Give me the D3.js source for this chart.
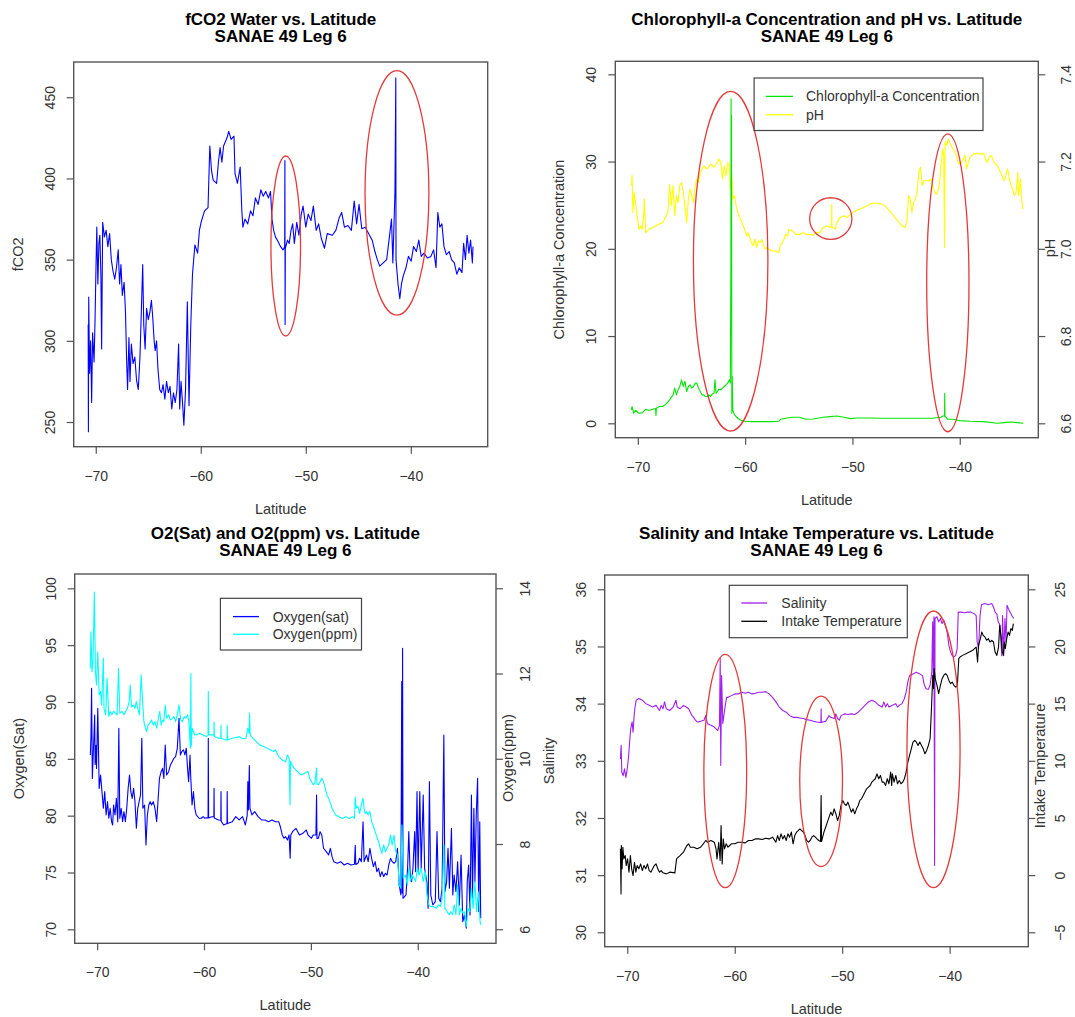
<!DOCTYPE html>
<html>
<head>
<meta charset="utf-8">
<script src="https://cdn.jsdelivr.net/npm/d3@7"></script>
<style>
  body { margin: 0; background: #fff; }
  svg { display: block; font-family: "Liberation Sans", Arial, sans-serif; }
</style>
</head>
<body>
<svg id="chart" width="1075" height="1017"></svg>
<script>
// ---- values: [latitude, value] ----
const latTicks = [-70, -60, -50, -40];

const fco2 = [[-70.72,310],[-70.70,244],[-70.67,327],[-70.59,280],[-70.49,300],[-70.39,262],[-70.30,305],[-70.16,287],[-70.07,312],[-69.97,348],[-69.90,370],[-69.80,335],[-69.70,360],[-69.61,365],[-69.51,340],[-69.44,295],[-69.34,373],[-69.18,364],[-69.01,368],[-68.85,358],[-68.68,366],[-68.52,350],[-68.36,343],[-68.19,338],[-68.03,345],[-67.86,356],[-67.73,335],[-67.60,347],[-67.47,328],[-67.30,336],[-67.17,318],[-67.07,290],[-66.97,270],[-66.84,302],[-66.74,275],[-66.61,298],[-66.45,286],[-66.28,290],[-66.12,276],[-65.95,270],[-65.79,290],[-65.66,318],[-65.53,347],[-65.43,310],[-65.30,295],[-65.16,320],[-65.00,313],[-64.84,318],[-64.70,325],[-64.57,314],[-64.44,300],[-64.34,294],[-64.21,300],[-64.08,283],[-63.91,270],[-63.75,268],[-63.59,273],[-63.42,264],[-63.26,275],[-63.09,268],[-62.93,272],[-62.76,258],[-62.60,268],[-62.43,262],[-62.27,270],[-62.11,298],[-62.01,258],[-61.88,275],[-61.75,263],[-61.61,248],[-61.45,270],[-61.28,324],[-61.12,260],[-60.95,310],[-60.79,341],[-60.56,359],[-60.30,354],[-60.13,368],[-59.97,373],[-59.64,380],[-59.31,382],[-59.14,420],[-58.98,405],[-58.82,399],[-58.49,397],[-58.32,410],[-58.16,419],[-57.99,410],[-57.83,420],[-57.50,425],[-57.34,429],[-57.11,424],[-56.84,426],[-56.74,403],[-56.51,397],[-56.25,407],[-56.09,380],[-55.99,370],[-55.79,375],[-55.53,372],[-55.26,380],[-55.03,377],[-54.80,388],[-54.54,384],[-54.28,393],[-54.05,389],[-53.82,392],[-53.55,388],[-53.36,392],[-53.22,375],[-53.06,368],[-52.89,364],[-52.63,361],[-52.40,358],[-52.17,356],[-52.01,358],[-51.99,411],[-51.97,310],[-51.95,357],[-51.74,362],[-51.58,360],[-51.41,368],[-51.25,372],[-51.09,360],[-50.86,373],[-50.66,365],[-50.43,378],[-50.26,383],[-50.00,370],[-49.77,378],[-49.51,374],[-49.28,383],[-49.01,368],[-48.78,372],[-48.52,363],[-48.22,357],[-47.96,366],[-47.47,365],[-47.14,368],[-46.81,376],[-46.58,379],[-46.32,370],[-45.99,371],[-45.66,368],[-45.39,386],[-45.16,372],[-44.93,384],[-44.67,369],[-44.34,370],[-44.01,366],[-43.68,362],[-43.42,355],[-43.19,350],[-42.96,346],[-42.63,348],[-42.30,350],[-42.04,364],[-41.84,375],[-41.71,348],[-41.51,392],[-41.43,462],[-41.41,350],[-41.22,335],[-41.05,326],[-40.89,335],[-40.72,340],[-40.46,345],[-40.23,352],[-39.97,349],[-39.74,358],[-39.47,355],[-39.24,362],[-39.01,352],[-38.75,354],[-38.42,351],[-38.09,352],[-37.83,356],[-37.60,345],[-37.43,379],[-37.24,370],[-37.04,372],[-36.84,358],[-36.61,353],[-36.35,355],[-36.12,350],[-35.86,348],[-35.62,341],[-35.39,345],[-35.13,342],[-34.97,360],[-34.80,350],[-34.64,365],[-34.47,354],[-34.31,362],[-34.14,348],[-34.08,358]];

const chl = [[-70.60,1.53],[-70.54,1.92],[-70.38,1.15],[-70.22,1.5],[-69.90,1.15],[-69.59,1.2],[-69.27,1.6],[-68.95,1.46],[-68.63,1.6],[-68.35,1.7],[-68.31,0.9],[-68.27,1.73],[-68.00,1.92],[-67.68,1.92],[-67.36,2.22],[-67.04,2.68],[-66.72,3.26],[-66.56,4.03],[-66.40,3.26],[-66.25,3.83],[-66.09,4.22],[-65.93,4.99],[-65.77,4.22],[-65.61,4.8],[-65.45,3.64],[-65.29,4.22],[-65.13,4.41],[-64.97,4.03],[-64.81,4.22],[-64.65,4.6],[-64.50,4.6],[-64.34,4.03],[-64.18,3.64],[-64.02,3.26],[-63.86,3.26],[-63.70,3.07],[-63.54,3.07],[-63.38,3.26],[-63.22,3.07],[-63.06,3.37],[-62.90,3.45],[-62.81,4.99],[-62.71,3.45],[-62.59,3.64],[-62.43,3.91],[-62.27,3.83],[-62.11,4.03],[-61.95,4.22],[-61.79,4.41],[-61.63,4.6],[-61.47,4.99],[-61.38,4.6],[-61.33,18],[-61.31,37.2],[-61.29,14.2],[-61.27,35.3],[-61.24,1.15],[-61.20,5.4],[-61.15,1.5],[-60.99,0.96],[-60.68,0.58],[-60.36,0.31],[-60.04,0.23],[-59.41,0.19],[-58.45,0.19],[-57.50,0.19],[-56.86,0.23],[-56.70,0.46],[-56.22,0.58],[-55.59,0.69],[-54.95,0.69],[-54.31,0.46],[-53.68,0.5],[-52.72,0.69],[-52.09,0.77],[-51.45,0.84],[-50.81,0.69],[-50.18,0.54],[-49.54,0.61],[-48.59,0.61],[-47.31,0.58],[-45.72,0.58],[-44.13,0.58],[-42.54,0.58],[-41.75,0.69],[-41.59,0.84],[-41.42,0.84],[-41.40,3.45],[-41.38,0.77],[-41.33,0.77],[-41.11,0.46],[-40.63,0.46],[-40.00,0.31],[-39.04,0.23],[-37.77,0.19],[-36.50,0.0],[-35.86,0.08],[-35.22,0.15],[-34.59,0.08],[-34.08,0.0]];

const ph = [[-70.60,7.145],[-70.54,7.168],[-70.45,7.083],[-70.35,7.129],[-70.22,7.106],[-70.06,7.076],[-69.90,7.045],[-69.75,7.053],[-69.59,7.045],[-69.45,7.080],[-69.40,7.114],[-69.27,7.037],[-68.95,7.045],[-68.63,7.049],[-68.31,7.053],[-68.00,7.057],[-67.68,7.060],[-67.36,7.076],[-67.20,7.083],[-67.04,7.148],[-66.88,7.099],[-66.72,7.145],[-66.56,7.076],[-66.40,7.122],[-66.25,7.106],[-66.09,7.145],[-65.93,7.152],[-65.77,7.129],[-65.61,7.099],[-65.45,7.060],[-65.29,7.114],[-65.13,7.137],[-64.97,7.122],[-64.81,7.106],[-64.65,7.145],[-64.50,7.160],[-64.34,7.152],[-64.18,7.175],[-64.02,7.183],[-63.86,7.190],[-63.54,7.183],[-63.22,7.194],[-62.90,7.187],[-62.59,7.198],[-62.43,7.206],[-62.27,7.198],[-62.11,7.160],[-61.95,7.190],[-61.79,7.168],[-61.63,7.198],[-61.47,7.190],[-61.38,7.137],[-61.25,7.168],[-61.15,7.114],[-60.99,7.122],[-60.84,7.099],[-60.68,7.083],[-60.36,7.064],[-60.04,7.045],[-59.88,7.030],[-59.72,7.037],[-59.56,7.026],[-59.41,7.014],[-59.25,7.007],[-59.09,7.022],[-58.93,7.003],[-58.77,7.018],[-58.61,7.014],[-58.45,7.022],[-58.29,7.007],[-58.13,6.999],[-57.97,7.003],[-57.81,6.999],[-57.50,6.995],[-57.18,6.995],[-56.86,6.991],[-56.70,7.010],[-56.54,7.014],[-56.38,7.022],[-56.22,7.033],[-56.06,7.030],[-55.91,7.045],[-55.59,7.041],[-55.27,7.033],[-54.95,7.033],[-54.63,7.037],[-54.31,7.033],[-53.99,7.033],[-53.68,7.031],[-53.36,7.037],[-53.04,7.037],[-52.72,7.049],[-52.41,7.053],[-52.09,7.049],[-51.95,7.050],[-51.93,7.102],[-51.91,7.050],[-51.83,7.049],[-51.61,7.045],[-51.45,7.060],[-51.13,7.072],[-50.81,7.076],[-50.50,7.072],[-50.18,7.079],[-49.86,7.085],[-49.54,7.089],[-49.22,7.092],[-48.91,7.095],[-48.59,7.099],[-48.27,7.104],[-47.95,7.105],[-47.63,7.104],[-47.31,7.103],[-47.00,7.099],[-46.68,7.091],[-46.36,7.082],[-46.04,7.072],[-45.72,7.062],[-45.41,7.053],[-45.09,7.049],[-44.93,7.064],[-44.77,7.122],[-44.62,7.114],[-44.46,7.083],[-44.30,7.106],[-44.13,7.114],[-43.98,7.129],[-43.82,7.175],[-43.66,7.187],[-43.50,7.145],[-43.34,7.156],[-43.18,7.156],[-42.86,7.156],[-42.70,7.160],[-42.54,7.148],[-42.38,7.133],[-42.22,7.125],[-42.07,7.129],[-41.91,7.145],[-41.75,7.191],[-41.59,7.229],[-41.49,7.214],[-41.42,7.003],[-41.37,7.245],[-41.20,7.237],[-41.08,7.252],[-40.95,7.245],[-40.79,7.237],[-40.63,7.229],[-40.47,7.222],[-40.32,7.214],[-40.16,7.198],[-40.00,7.194],[-39.84,7.198],[-39.68,7.206],[-39.52,7.214],[-39.36,7.183],[-39.20,7.198],[-39.04,7.210],[-38.72,7.217],[-38.41,7.219],[-38.09,7.217],[-37.77,7.219],[-37.61,7.207],[-37.45,7.198],[-37.30,7.207],[-37.13,7.214],[-36.97,7.210],[-36.82,7.198],[-36.50,7.191],[-36.18,7.175],[-35.86,7.156],[-35.71,7.168],[-35.54,7.183],[-35.38,7.160],[-35.22,7.145],[-35.07,7.137],[-34.91,7.122],[-34.75,7.129],[-34.59,7.175],[-34.52,7.122],[-34.43,7.137],[-34.34,7.160],[-34.21,7.106],[-34.08,7.091]];

const o2sat = [[-70.64,85.34],[-70.58,86.95],[-70.52,91.2],[-70.45,83.28],[-70.32,86.51],[-70.23,88.86],[-70.19,84.5],[-70.10,86.2],[-70.06,84.16],[-69.94,89.44],[-69.81,82.4],[-69.68,83.58],[-69.55,82.11],[-69.42,80.65],[-69.29,82.11],[-69.16,80.06],[-69.03,81.23],[-68.91,79.77],[-68.78,80.65],[-68.65,79.47],[-68.55,79.18],[-68.46,80.94],[-68.33,80.06],[-68.20,81.52],[-68.07,79.47],[-67.97,87.68],[-67.88,79.77],[-67.75,80.65],[-67.62,79.47],[-67.49,80.35],[-67.36,79.47],[-67.23,80.65],[-67.10,82.4],[-66.97,83.58],[-66.85,82.11],[-66.72,81.52],[-66.59,82.4],[-66.46,81.23],[-66.33,78.89],[-66.20,80.65],[-66.07,81.23],[-65.94,81.82],[-65.82,86.8],[-65.72,80.65],[-65.56,80.94],[-65.43,77.42],[-65.30,80.06],[-65.17,80.94],[-65.04,81.23],[-64.91,80.94],[-64.75,81.23],[-64.59,80.65],[-64.43,79.47],[-64.27,81.82],[-64.17,83.28],[-64.01,83.87],[-63.88,84.16],[-63.76,83.28],[-63.63,86.22],[-63.50,83.58],[-63.31,83.87],[-63.14,84.46],[-62.98,84.75],[-62.82,85.04],[-62.66,85.19],[-62.50,85.92],[-62.34,88.56],[-62.21,85.34],[-62.08,85.63],[-61.92,85.78],[-61.79,85.34],[-61.66,85.92],[-61.54,84.16],[-61.44,82.99],[-61.31,85.34],[-61.25,83.58],[-61.12,80.94],[-60.99,82.11],[-60.86,80.65],[-60.73,80.06],[-60.47,79.77],[-60.25,79.77],[-60.09,79.91],[-59.93,79.77],[-59.77,79.82],[-59.62,79.8],[-59.60,86.8],[-59.57,79.8],[-59.28,79.91],[-59.08,79.9],[-59.06,82.4],[-59.04,79.8],[-58.64,79.62],[-58.43,79.6],[-58.41,82.11],[-58.39,79.5],[-58.16,79.18],[-57.85,79.3],[-57.83,82.11],[-57.81,79.3],[-57.35,79.47],[-57.03,79.91],[-56.71,79.62],[-56.39,79.91],[-56.13,79.18],[-55.96,80.0],[-55.90,82.99],[-55.84,80.5],[-55.76,84.4],[-55.70,80.65],[-55.52,80.06],[-55.26,80.35],[-54.94,79.91],[-54.62,79.62],[-54.29,79.62],[-53.97,79.47],[-53.65,79.62],[-53.33,79.47],[-53.01,79.47],[-52.85,79.0],[-52.68,78.3],[-52.52,78.01],[-52.36,78.15],[-52.20,77.86],[-52.04,78.3],[-51.94,76.25],[-51.88,78.3],[-51.72,78.59],[-51.40,78.89],[-51.07,78.3],[-50.75,78.45],[-50.43,78.74],[-50.27,78.3],[-49.95,78.01],[-49.79,78.3],[-49.53,78.3],[-49.47,81.82],[-49.43,78.0],[-49.30,78.01],[-49.14,78.59],[-48.98,78.3],[-48.82,77.13],[-48.56,76.83],[-48.34,76.54],[-48.18,77.13],[-48.02,76.39],[-47.86,75.95],[-47.53,75.81],[-47.21,75.95],[-46.89,75.66],[-46.57,75.81],[-46.25,75.66],[-45.92,75.72],[-45.85,77.4],[-45.80,75.7],[-45.60,75.81],[-45.44,76.25],[-45.28,75.95],[-45.12,79.47],[-45.02,75.95],[-44.80,76.54],[-44.64,75.95],[-44.48,77.13],[-44.32,76.25],[-44.15,75.51],[-43.99,75.95],[-43.83,75.07],[-43.67,75.37],[-43.51,74.63],[-43.35,75.07],[-43.19,74.63],[-43.03,74.93],[-42.87,74.78],[-42.71,75.66],[-42.55,76.25],[-42.39,75.95],[-42.22,75.81],[-42.06,75.95],[-41.90,77.13],[-41.74,73.9],[-41.58,73.02],[-41.50,91.79],[-41.46,73.2],[-41.42,94.72],[-41.38,72.73],[-41.10,73.02],[-40.94,75.66],[-40.84,78.6],[-40.71,74.78],[-40.58,74.19],[-40.45,75.37],[-40.29,78.6],[-40.20,75.07],[-40.07,82.11],[-39.97,75.07],[-39.81,82.11],[-39.68,75.37],[-39.49,81.82],[-39.36,75.37],[-39.16,74.19],[-39.03,71.85],[-38.91,82.99],[-38.78,73.02],[-38.59,72.14],[-38.36,72.43],[-38.20,78.6],[-38.04,72.73],[-37.88,72.43],[-37.72,73.61],[-37.56,87.1],[-37.46,73.31],[-37.30,74.19],[-37.17,77.13],[-37.04,73.61],[-36.85,78.89],[-36.72,73.02],[-36.60,74.78],[-36.43,73.31],[-36.27,75.95],[-36.11,72.14],[-35.95,76.54],[-35.79,70.67],[-35.63,71.26],[-35.46,70.09],[-35.37,74.19],[-35.24,75.66],[-35.11,71.26],[-34.98,81.82],[-34.88,72.73],[-34.75,80.65],[-34.65,74.19],[-34.53,80.06],[-34.40,83.28],[-34.30,71.55],[-34.20,79.47],[-34.11,70.97]];

const o2ppm = [[-70.64,12.12],[-70.58,12.98],[-70.48,12.04],[-70.39,12.28],[-70.26,13.91],[-70.16,12.04],[-70.06,11.73],[-69.94,12.51],[-69.81,11.5],[-69.68,11.58],[-69.58,11.26],[-69.42,12.36],[-69.36,11.18],[-69.20,11.03],[-69.07,11.89],[-68.91,10.99],[-68.78,11.11],[-68.62,11.03],[-68.46,11.11],[-68.29,11.07],[-68.13,11.03],[-68.00,12.12],[-67.88,11.07],[-67.65,11.11],[-67.49,11.03],[-67.33,11.11],[-67.17,11.18],[-67.00,11.34],[-66.91,11.73],[-66.78,11.22],[-66.62,11.26],[-66.46,11.18],[-66.33,11.34],[-66.20,11.18],[-66.04,11.03],[-65.88,11.97],[-65.75,11.34],[-65.62,10.87],[-65.49,10.72],[-65.37,10.64],[-65.24,10.79],[-65.08,10.83],[-64.91,10.91],[-64.75,10.79],[-64.59,10.87],[-64.43,10.72],[-64.27,10.95],[-64.14,11.11],[-64.01,10.79],[-63.88,10.91],[-63.76,10.87],[-63.63,11.26],[-63.50,10.95],[-63.31,11.03],[-63.14,10.91],[-62.98,10.95],[-62.82,10.99],[-62.66,10.87],[-62.50,11.03],[-62.34,11.26],[-62.18,10.91],[-62.02,10.87],[-61.86,10.99],[-61.70,10.95],[-61.54,11.03],[-61.41,10.87],[-61.28,10.25],[-61.23,12.0],[-61.19,10.3],[-61.12,10.72],[-60.99,10.64],[-60.86,10.56],[-60.73,10.56],[-60.41,10.6],[-60.09,10.56],[-59.77,10.52],[-59.62,10.55],[-59.60,11.58],[-59.55,10.56],[-59.28,10.56],[-59.08,10.55],[-59.06,10.87],[-59.03,10.52],[-58.64,10.48],[-58.43,10.48],[-58.41,10.79],[-58.39,10.48],[-58.00,10.44],[-57.85,10.44],[-57.83,10.79],[-57.80,10.44],[-57.35,10.48],[-57.03,10.5],[-56.71,10.52],[-56.39,10.47],[-56.07,10.48],[-55.90,10.72],[-55.78,10.6],[-55.74,11.07],[-55.68,10.56],[-55.42,10.48],[-55.10,10.4],[-54.77,10.32],[-54.45,10.29],[-54.13,10.25],[-53.81,10.21],[-53.49,10.17],[-53.33,10.21],[-53.17,10.13],[-53.01,10.05],[-52.68,9.97],[-52.36,9.93],[-52.20,10.09],[-52.04,10.01],[-51.95,8.92],[-51.91,9.95],[-51.85,9.89],[-51.56,9.78],[-51.24,9.7],[-50.91,9.62],[-50.59,9.66],[-50.27,9.7],[-50.11,9.54],[-49.95,9.46],[-49.79,9.39],[-49.63,9.43],[-49.47,9.78],[-49.43,9.4],[-49.30,9.39],[-49.14,9.46],[-48.98,9.54],[-48.82,9.46],[-48.66,9.31],[-48.50,9.15],[-48.34,9.07],[-48.18,8.96],[-48.02,8.84],[-47.86,8.76],[-47.69,8.68],[-47.37,8.64],[-47.05,8.6],[-46.73,8.64],[-46.41,8.6],[-46.09,8.64],[-45.92,8.6],[-45.85,9.1],[-45.76,8.84],[-45.60,8.88],[-45.44,8.72],[-45.28,8.92],[-45.12,9.07],[-44.96,8.72],[-44.80,8.76],[-44.64,8.68],[-44.48,8.76],[-44.32,8.53],[-44.15,8.41],[-43.99,8.29],[-43.83,8.17],[-43.67,8.06],[-43.51,7.9],[-43.35,7.78],[-43.19,7.98],[-43.03,7.82],[-42.87,7.9],[-42.71,7.98],[-42.55,8.21],[-42.39,7.98],[-42.22,8.21],[-42.06,7.82],[-41.90,7.74],[-41.74,7.04],[-41.58,6.96],[-41.48,8.45],[-41.36,7.2],[-41.16,7.27],[-40.97,7.04],[-40.84,7.43],[-40.68,7.12],[-40.52,7.27],[-40.36,7.2],[-40.20,7.12],[-40.04,7.43],[-39.88,7.27],[-39.68,7.43],[-39.49,7.12],[-39.30,7.35],[-39.13,6.81],[-38.97,6.57],[-38.78,6.53],[-38.52,6.53],[-38.27,6.49],[-38.04,6.57],[-37.88,6.53],[-37.72,6.73],[-37.56,7.98],[-37.46,6.49],[-37.24,6.41],[-37.08,6.34],[-36.91,6.41],[-36.75,6.34],[-36.59,6.57],[-36.43,6.34],[-36.27,7.04],[-36.11,6.34],[-35.95,6.49],[-35.79,6.38],[-35.63,6.41],[-35.46,6.06],[-35.30,6.49],[-35.14,6.41],[-34.98,6.96],[-34.82,6.49],[-34.65,7.12],[-34.50,6.41],[-34.34,6.88],[-34.17,6.18],[-34.08,6.10]];

const salinity = [[-70.64,33.03],[-70.57,33.27],[-70.51,32.8],[-70.38,32.74],[-70.26,32.86],[-70.13,32.71],[-70.00,32.86],[-69.87,33.09],[-69.78,33.33],[-69.68,33.56],[-69.55,33.68],[-69.46,33.5],[-69.36,33.79],[-69.30,33.91],[-69.17,34.06],[-68.92,34.09],[-68.60,34.06],[-68.28,34.0],[-67.96,33.97],[-67.64,33.94],[-67.32,33.97],[-67.00,33.88],[-66.84,33.97],[-66.68,33.91],[-66.53,34.03],[-66.37,33.91],[-66.05,33.88],[-65.73,33.94],[-65.47,34.06],[-65.35,33.94],[-65.09,33.91],[-64.77,33.97],[-64.52,33.94],[-64.29,33.91],[-64.13,33.85],[-63.97,33.79],[-63.82,33.76],[-63.66,33.71],[-63.50,33.68],[-63.18,33.69],[-62.86,33.71],[-62.70,33.79],[-62.54,33.65],[-62.22,33.62],[-61.90,33.59],[-61.74,33.56],[-61.58,33.53],[-61.42,33.62],[-61.35,34.79],[-61.30,32.92],[-61.22,34.49],[-61.11,33.65],[-61.01,33.79],[-60.88,33.97],[-60.75,34.11],[-60.63,34.11],[-60.31,34.14],[-59.99,34.17],[-59.67,34.17],[-59.35,34.2],[-59.03,34.18],[-58.72,34.2],[-58.40,34.17],[-58.08,34.18],[-57.76,34.2],[-57.44,34.2],[-57.12,34.21],[-56.80,34.17],[-56.48,34.11],[-56.17,34.03],[-55.85,33.94],[-55.53,33.88],[-55.21,33.85],[-54.89,33.79],[-54.57,33.76],[-54.25,33.76],[-53.93,33.75],[-53.61,33.74],[-53.30,33.72],[-52.98,33.71],[-52.66,33.69],[-52.34,33.68],[-52.09,33.67],[-51.98,33.67],[-51.96,33.91],[-51.94,33.67],[-51.83,33.68],[-51.54,33.69],[-51.22,33.79],[-51.06,33.76],[-50.75,33.74],[-50.59,33.82],[-50.43,33.74],[-50.27,33.71],[-50.11,33.79],[-49.79,33.82],[-49.47,33.81],[-49.15,33.82],[-48.83,33.81],[-48.51,33.85],[-48.20,33.91],[-47.88,33.97],[-47.56,34.03],[-47.24,34.06],[-46.92,34.03],[-46.60,33.97],[-46.28,33.94],[-46.12,34.03],[-45.96,33.94],[-45.80,34.0],[-45.65,33.94],[-45.33,33.97],[-45.01,34.0],[-44.85,33.94],[-44.69,33.97],[-44.43,34.0],[-44.21,34.09],[-44.05,34.2],[-43.89,34.38],[-43.73,34.49],[-43.41,34.52],[-43.10,34.55],[-42.78,34.52],[-42.52,34.49],[-42.39,34.35],[-42.20,34.26],[-41.98,34.25],[-41.82,34.32],[-41.66,34.55],[-41.58,35.43],[-41.52,34.49],[-41.46,35.52],[-41.40,31.17],[-41.36,35.49],[-41.18,35.52],[-41.02,35.43],[-40.86,35.49],[-40.70,35.4],[-40.55,35.46],[-40.39,35.37],[-40.23,35.25],[-40.07,35.02],[-39.91,34.9],[-39.76,34.84],[-39.60,34.82],[-39.44,34.84],[-39.30,34.96],[-39.20,35.6],[-38.96,35.6],[-38.64,35.59],[-38.32,35.6],[-38.01,35.6],[-37.69,35.57],[-37.53,35.54],[-37.44,35.08],[-37.31,34.96],[-37.17,35.54],[-37.04,35.73],[-36.72,35.75],[-36.40,35.73],[-36.08,35.75],[-35.92,35.69],[-35.77,35.6],[-35.61,35.57],[-35.48,35.43],[-35.31,35.37],[-35.15,34.84],[-35.07,35.54],[-34.97,34.84],[-34.85,35.49],[-34.75,35.08],[-34.66,35.72],[-34.53,35.66],[-34.37,35.6],[-34.21,35.54],[-34.05,35.49]];

const intakeTemp = [[-70.64,2.30],[-70.58,-1.64],[-70.55,2.59],[-70.48,0.55],[-70.41,2.44],[-70.32,1.42],[-70.19,1.71],[-70.10,0.84],[-69.97,1.42],[-69.84,0.26],[-69.71,1.71],[-69.59,0.55],[-69.46,-0.04],[-69.33,1.13],[-69.20,0.26],[-69.08,0.84],[-68.92,0.55],[-68.76,0.98],[-68.60,0.4],[-68.44,0.84],[-68.28,0.55],[-68.12,0.98],[-67.96,0.4],[-67.80,0.26],[-67.64,0.55],[-67.48,0.84],[-67.32,0.98],[-67.16,0.55],[-67.00,0.26],[-66.84,0.4],[-66.68,0.2],[-66.37,0.11],[-66.05,0.26],[-65.57,0.2],[-65.41,1.42],[-65.25,1.57],[-65.09,1.71],[-64.93,1.86],[-64.77,2.01],[-64.61,2.30],[-64.45,2.59],[-64.29,2.74],[-64.13,2.44],[-63.82,2.44],[-63.50,2.30],[-63.18,2.44],[-62.92,2.74],[-62.70,3.03],[-62.54,2.88],[-62.22,3.03],[-61.90,2.88],[-61.74,2.30],[-61.65,1.42],[-61.58,2.01],[-61.49,2.88],[-61.36,1.28],[-61.27,4.34],[-61.17,0.98],[-61.07,3.17],[-60.95,2.30],[-60.79,2.74],[-60.63,2.44],[-60.47,2.59],[-60.31,2.74],[-59.99,2.74],[-59.67,2.88],[-59.35,2.88],[-59.03,2.82],[-58.72,3.03],[-58.40,3.03],[-58.08,3.17],[-57.76,3.17],[-57.44,3.11],[-57.12,3.23],[-56.80,3.17],[-56.48,3.32],[-56.17,2.88],[-56.01,3.46],[-55.85,3.03],[-55.69,3.61],[-55.53,3.17],[-55.37,3.46],[-55.21,3.03],[-55.05,3.61],[-54.89,3.32],[-54.73,3.76],[-54.57,2.74],[-54.41,3.46],[-54.25,3.76],[-54.09,3.9],[-53.93,4.05],[-53.78,3.9],[-53.61,3.76],[-53.46,3.46],[-53.30,3.03],[-53.14,2.88],[-52.98,3.03],[-52.82,3.32],[-52.66,3.46],[-52.50,3.32],[-52.34,3.17],[-52.18,3.03],[-52.02,2.94],[-51.96,6.97],[-51.92,2.94],[-51.70,3.76],[-51.54,4.19],[-51.38,4.63],[-51.22,5.07],[-51.06,5.51],[-50.90,5.22],[-50.75,5.8],[-50.59,5.36],[-50.43,4.78],[-50.27,5.22],[-50.11,6.09],[-49.95,6.53],[-49.79,6.24],[-49.63,6.09],[-49.47,6.38],[-49.31,5.95],[-49.15,5.51],[-48.99,5.8],[-48.83,5.36],[-48.67,5.8],[-48.51,6.09],[-48.36,6.53],[-48.20,6.67],[-48.04,6.97],[-47.88,7.26],[-47.72,7.55],[-47.56,7.7],[-47.40,7.84],[-47.24,8.13],[-47.08,8.28],[-46.92,8.43],[-46.76,8.86],[-46.60,8.43],[-46.44,8.72],[-46.28,8.13],[-46.12,8.13],[-45.96,7.84],[-45.80,8.43],[-45.65,7.99],[-45.49,9.01],[-45.39,7.84],[-45.33,8.86],[-45.17,8.13],[-45.01,8.72],[-44.85,7.99],[-44.69,8.28],[-44.53,7.99],[-44.37,8.13],[-44.21,8.43],[-44.05,9.01],[-43.89,9.88],[-43.73,10.47],[-43.57,11.05],[-43.41,11.64],[-43.25,11.78],[-43.10,11.64],[-42.94,11.34],[-42.78,11.64],[-42.62,11.34],[-42.46,11.05],[-42.30,10.61],[-42.14,10.91],[-41.98,11.34],[-41.82,11.93],[-41.72,13.97],[-41.63,16.01],[-41.57,17.47],[-41.50,16.3],[-41.44,18.06],[-41.34,17.18],[-41.18,16.6],[-41.02,15.87],[-40.86,16.6],[-40.70,17.18],[-40.55,17.47],[-40.39,17.62],[-40.23,17.47],[-40.07,17.03],[-39.91,16.74],[-39.76,16.89],[-39.60,16.6],[-39.44,16.45],[-39.28,16.6],[-39.15,18.93],[-39.03,19.08],[-38.80,19.22],[-38.48,19.37],[-38.17,19.51],[-37.85,19.66],[-37.69,19.81],[-37.53,19.95],[-37.40,18.64],[-37.31,20.1],[-37.14,20.68],[-37.01,21.26],[-36.88,20.97],[-36.72,20.83],[-36.56,20.54],[-36.40,20.68],[-36.24,20.39],[-36.08,20.54],[-35.92,20.39],[-35.77,19.51],[-35.61,19.22],[-35.45,19.95],[-35.34,21.85],[-35.23,20.97],[-35.10,19.51],[-35.00,19.22],[-34.91,20.39],[-34.82,19.81],[-34.69,20.68],[-34.56,21.26],[-34.43,20.97],[-34.30,21.56],[-34.17,21.41],[-34.07,22.0]];

// highlight ellipses: [centre lat, centre value (left axis), half-width in lat, half-height in value]
const fco2Rings = [[-51.91, 358.4, 1.41, 55.4], [-41.32, 391.1, 3.04, 75.3]];
const chlRings = [[-61.35, 18.58, 3.47, 19.46], [-52.02, 23.47, 1.97, 2.38], [-41.11, 16.1, 1.97, 17.07]];
const salRings = [[-60.88, 32.82, 1.99, 2.04], [-51.96, 32.64, 1.99, 1.49], [-41.50, 33.2, 2.47, 2.42]];

const fco2Ticks = [250, 300, 350, 400, 450];
const chlTicks = [0, 10, 20, 30, 40];
const phTicks = [6.6, 6.8, 7.0, 7.2, 7.4];
const satTicks = [70, 75, 80, 85, 90, 95, 100];
const ppmTicks = [6, 8, 10, 12, 14];
const salTicks = [30, 31, 32, 33, 34, 35, 36];
const tempTicks = [-5, 0, 5, 10, 15, 20, 25];

// ---- drawing ----
const svg = d3.select("#chart");
const latDomain = [-72.1, -32.68];
const font = '"Liberation Sans", Arial, sans-serif';

function drawPanel(p, idx) {
  const g = svg.append("g");
  const b = p.box;
  const x = d3.scaleLinear().domain(latDomain).range([b.left, b.right]);
  const yL = d3.scaleLinear().domain(p.left.domain).range([b.bottom, b.top]);
  const yR = p.right ? d3.scaleLinear().domain(p.right.domain).range([b.bottom, b.top]) : null;

  g.append("clipPath").attr("id", "clip" + idx)
    .append("rect").attr("x", b.left).attr("y", b.top)
    .attr("width", b.right - b.left).attr("height", b.bottom - b.top);

  const plot = g.append("g").attr("clip-path", `url(#clip${idx})`);
  p.series.forEach(s => {
    const y = s.side === "right" ? yR : yL;
    plot.append("path")
      .datum(s.data)
      .attr("d", d3.line().x(d => x(d[0])).y(d => y(d[1])))
      .attr("fill", "none")
      .attr("stroke", s.color)
      .attr("stroke-width", 1.1)
      .attr("stroke-linejoin", "round");
  });

  (p.rings || []).forEach(r => {
    g.append("ellipse")
      .attr("cx", x(r[0])).attr("cy", yL(r[1]))
      .attr("rx", x(r[0] + r[2]) - x(r[0]))
      .attr("ry", yL(r[1] - r[3]) - yL(r[1]))
      .attr("fill", "none").attr("stroke", "#e33b3b").attr("stroke-width", 1.3);
  });

  // box
  g.append("rect")
    .attr("x", b.left).attr("y", b.top)
    .attr("width", b.right - b.left).attr("height", b.bottom - b.top)
    .attr("fill", "none").attr("stroke", "#555").attr("stroke-width", 1.4);

  // x axis
  const ax = g.append("g").attr("transform", `translate(0,${b.bottom})`)
    .call(d3.axisBottom(x).tickValues(latTicks).tickSize(7).tickFormat(d3.format("d")));
  styleAxis(ax);
  ax.selectAll("text").attr("y", 29).attr("dy", "0.35em");

  // left axis
  const al = g.append("g").attr("transform", `translate(${b.left},0)`)
    .call(d3.axisLeft(yL).tickValues(p.left.ticks).tickSize(7).tickFormat(p.left.fmt || d3.format("d")));
  styleAxis(al);
  al.selectAll("text").attr("x", 0).attr("y", 0).attr("dy", "0.35em")
    .attr("text-anchor", "middle").attr("transform", "translate(-24,0) rotate(-90)");

  if (yR) {
    const ar = g.append("g").attr("transform", `translate(${b.right},0)`)
      .call(d3.axisRight(yR).tickValues(p.right.ticks).tickSize(7).tickFormat(p.right.fmt || d3.format("d")));
    styleAxis(ar);
    ar.selectAll("text").attr("x", 0).attr("y", 0).attr("dy", "0.35em")
      .attr("text-anchor", "middle").attr("transform", `translate(${p.right.labelOff},0) rotate(-90)`);
    g.append("text")
      .attr("transform", `translate(${b.right + 12},${p.right.titleY}) rotate(-90)`)
      .attr("text-anchor", "middle").attr("dy", "0.35em")
      .attr("font-size", 14.5).attr("fill", "#333").text(p.right.title);
  }

  // two-line title kept in one text element
  const cx = (b.left + b.right) / 2;
  const title = g.append("text").attr("text-anchor", "middle").attr("font-size", 17)
    .attr("font-weight", "bold").attr("fill", "#000");
  p.title.forEach((t, i) => {
    title.append("tspan").attr("x", cx).attr("y", p.titleY[i]).attr("dy", "0.35em").text(t);
  });

  g.append("text").attr("x", cx).attr("y", b.bottom + 62).attr("dy", "0.35em")
    .attr("text-anchor", "middle").attr("font-size", 14.5).attr("fill", "#333").text("Latitude");
  g.append("text")
    .attr("transform", `translate(${b.left - 56},${(b.top + b.bottom) / 2}) rotate(-90)`)
    .attr("text-anchor", "middle").attr("dy", "0.35em")
    .attr("font-size", 14.5).attr("fill", "#333").text(p.left.title);

  // legend
  if (p.legend) {
    const L = p.legend;
    g.append("rect").attr("x", L.x0).attr("y", L.y0)
      .attr("width", L.x1 - L.x0).attr("height", L.y1 - L.y0)
      .attr("fill", "#fff").attr("stroke", "#444").attr("stroke-width", 1.2);
    L.items.forEach((it, i) => {
      const yy = L.rows[i];
      g.append("line").attr("x1", L.lineX[0]).attr("x2", L.lineX[1])
        .attr("y1", yy).attr("y2", yy).attr("stroke", it.color).attr("stroke-width", 1.3);
      g.append("text").attr("x", L.textX).attr("y", yy).attr("dy", "0.35em")
        .attr("font-size", 14).attr("fill", "#333").text(it.label);
    });
  }
}

function styleAxis(a) {
  a.select(".domain").remove();
  a.selectAll("line").attr("stroke", "#555").attr("stroke-width", 1.2);
  a.selectAll("text").attr("fill", "#333").attr("font-size", 14).attr("font-family", font);
}

const panels = [
  {
    box: { left: 73.7, right: 487.7, top: 62, bottom: 446.7 },
    title: ["fCO2 Water vs. Latitude", "SANAE 49 Leg 6"], titleY: [19, 36],
    left: { domain: [234.8, 471.7], ticks: fco2Ticks, title: "fCO2" },
    series: [{ data: fco2, color: "#0000ff" }],
    rings: fco2Rings
  },
  {
    box: { left: 615.3, right: 1038.3, top: 61.3, bottom: 437.7 },
    title: ["Chlorophyll-a Concentration and pH vs. Latitude", "SANAE 49 Leg 6"], titleY: [19, 36],
    left: { domain: [-1.65, 41.49], ticks: chlTicks, title: "Chlorophyll-a Concentration" },
    right: { domain: [6.567, 7.4298], ticks: phTicks, fmt: d3.format(".1f"), title: "pH", labelOff: 28, titleY: 248 },
    series: [{ data: ph, color: "#ffff00", side: "right" }, { data: chl, color: "#00e600" }],
    rings: chlRings,
    legend: { x0: 754.1, y0: 78, x1: 983, y1: 130.5, rows: [96.4, 114.8], lineX: [765.8, 793.1], textX: 806,
      items: [{ label: "Chlorophyll-a Concentration", color: "#00e600" }, { label: "pH", color: "#ffff00" }] }
  },
  {
    box: { left: 74.7, right: 496, top: 574, bottom: 943.3 },
    title: ["O2(Sat) and O2(ppm) vs. Latitude", "SANAE 49 Leg 6"], titleY: [533, 550],
    left: { domain: [68.77, 101.26], ticks: satTicks, title: "Oxygen(Sat)" },
    right: { domain: [5.67, 14.335], ticks: ppmTicks, title: "Oxygen(ppm)", labelOff: 29, titleY: 758 },
    series: [{ data: o2sat, color: "#0000ff" }, { data: o2ppm, color: "#00ffff", side: "right" }],
    legend: { x0: 220.4, y0: 598.3, x1: 361.5, y1: 650, rows: [616.6, 634.3], lineX: [233, 258.9], textX: 272.7,
      items: [{ label: "Oxygen(sat)", color: "#0000ff" }, { label: "Oxygen(ppm)", color: "#00ffff" }] }
  },
  {
    box: { left: 604.7, right: 1028.3, top: 575, bottom: 946.7 },
    title: ["Salinity and Intake Temperature vs. Latitude", "SANAE 49 Leg 6"], titleY: [533, 550],
    left: { domain: [29.748, 36.25], ticks: salTicks, title: "Salinity" },
    right: { domain: [-6.26, 26.25], ticks: tempTicks, title: "Intake Temperature", labelOff: 32, titleY: 766 },
    series: [{ data: salinity, color: "#a020f0" }, { data: intakeTemp, color: "#000000", side: "right" }],
    rings: salRings,
    legend: { x0: 729.3, y0: 585.3, x1: 907.3, y1: 637.7, rows: [603, 621.3], lineX: [741.3, 767], textX: 781.3,
      items: [{ label: "Salinity", color: "#a020f0" }, { label: "Intake Temperature", color: "#000000" }] }
  }
];

panels.forEach(drawPanel);
</script>
</body>
</html>
